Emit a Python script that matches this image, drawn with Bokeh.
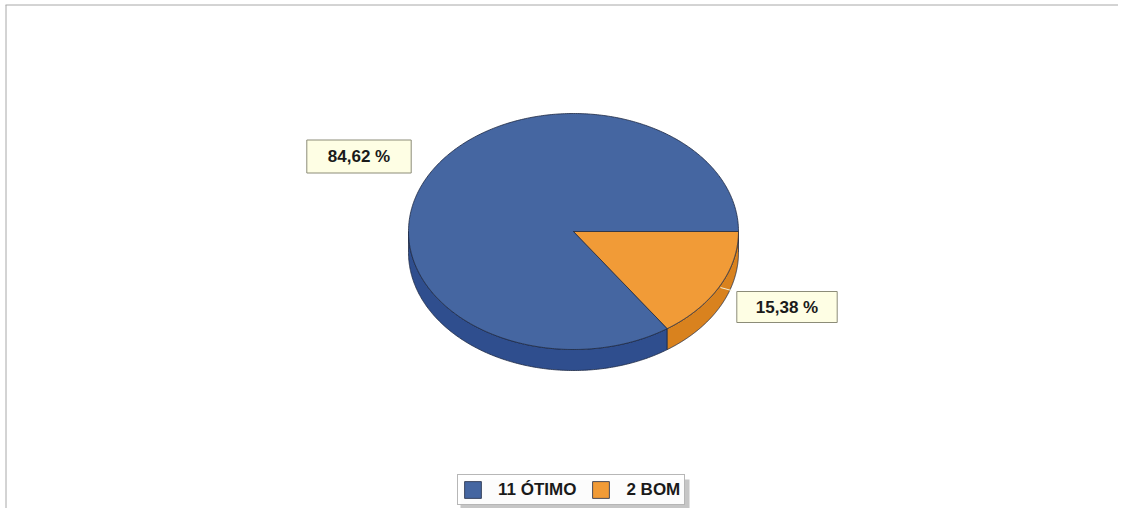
import numpy as np
from bokeh.plotting import figure
from bokeh.models import Range1d, Label, Legend, LegendItem
from bokeh.embed import file_html
from bokeh.resources import INLINE

# data
categories = ["11 ÓTIMO", "2 BOM"]
counts = [11, 2]
top_colors = ["#4566A1", "#F19B37"]
side_colors = ["#2F4E8E", "#D9821E"]

W, H = 1118, 508
p = figure(width=W, height=H, output_backend="svg", toolbar_location=None,
           x_range=Range1d(0, W), y_range=Range1d(H, 0),
           min_border=0, outline_line_color=None)
p.axis.visible = False
p.grid.visible = False
p.background_fill_color = "white"
p.border_fill_color = "white"

# frame lines (top & left)
p.line([5, W], [4.5, 4.5], line_color="#A8A8A8", line_width=1)
p.line([5.5, 5.5], [4.5, H], line_color="#A8A8A8", line_width=1)

cx, cy, rx, ry, depth = 573, 231, 165, 118, 21
total = sum(counts)
fracs = [c / total for c in counts]
ang_or = 2 * np.pi * fracs[1]
# blue: from 0 to 2pi - ang_or (counterclockwise), orange: from -ang_or to 0
ranges = [(0.0, 2 * np.pi - ang_or), (-ang_or, 0.0)]

def arc(a, b, n=200):
    t = np.linspace(a, b, n)
    return cx + rx * np.cos(t), cy - ry * np.sin(t)

edge = "#1E2A44"
side_ranges = [(np.pi, 2 * np.pi - ang_or), (-ang_or, 0.0)]
for (a, b), col in zip(side_ranges, side_colors):
    xs, ys = arc(a, b)
    px = np.concatenate([xs, xs[::-1]])
    py = np.concatenate([ys, ys[::-1] + depth])
    p.patch(px, py, fill_color=col, line_color=edge, line_width=0.8)

tops = []
for (a, b), col in zip(ranges, top_colors):
    xs, ys = arc(a, b, 400)
    px = np.concatenate([[cx], xs, [cx]])
    py = np.concatenate([[cy], ys, [cy]])
    r = p.patch(px, py, fill_color=col, line_color=edge, line_width=0.8)
    tops.append(r)

# leader line for small slice
p.line([720, 731], [287, 290], line_color="#F5F0D8", line_width=1)

# legend shadow
p.quad(left=[460], right=[689], top=[479], bottom=[508], fill_color="#A0A0A0",
       fill_alpha=0.6, line_color=None)

# percentage labels
label_pos = [(358.5, 156), (786.5, 306.5)]
label_pad = [dict(left=21, right=21, top=7, bottom=7), dict(left=19, right=19, top=6, bottom=6)]
for f, (lx, ly), pad in zip(fracs, label_pos, label_pad):
    txt = f"{f * 100:.2f} %".replace(".", ",")
    p.add_layout(Label(x=lx, y=ly, text=txt, text_align="center", text_baseline="middle",
                       text_font="Liberation Sans", text_font_style="bold",
                       text_font_size="17px", text_color="#1A1A1A",
                       background_fill_color="#FEFEE4", border_line_color="#8C8C78",
                       border_line_width=1, padding=pad))

# legend
items = [LegendItem(label=c, renderers=[r]) for c, r in zip(categories, tops)]
legend = Legend(items=items, orientation="horizontal", location=(457, H - 505),
                glyph_width=21, glyph_height=21, label_text_font="Liberation Sans",
                label_text_font_style="bold", label_text_font_size="17px",
                label_text_color="#1A1A1A", border_line_color="#707070",
                border_line_width=1, padding=4, spacing=14, label_standoff=15,
                margin=0, background_fill_color="white")
p.add_layout(legend, "center")

open("out.html", "w").write(file_html(p, INLINE))
